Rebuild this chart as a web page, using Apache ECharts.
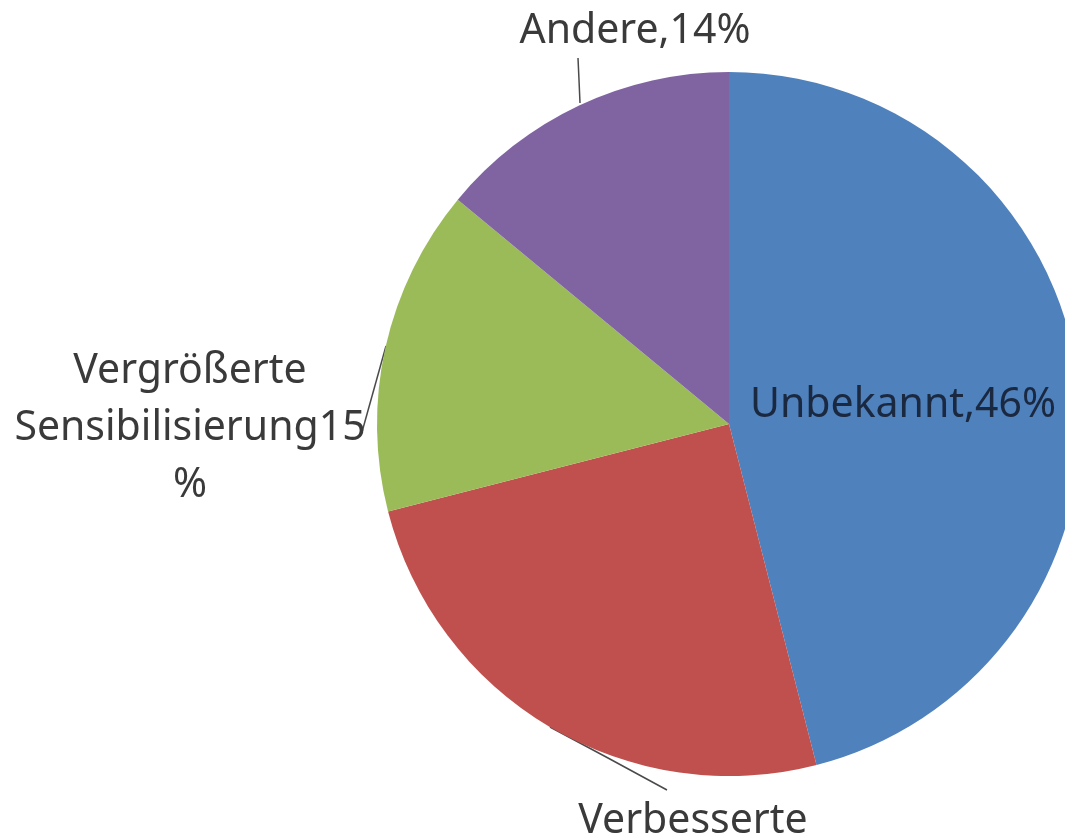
<!DOCTYPE html>
<html lang="de">
<head>
<meta charset="UTF-8">
<title>Pie</title>
<style>
  html, body { margin: 0; padding: 0; background: #fff; }
  #chart { width: 1065px; height: 840px; }
</style>
</head>
<body>
<div id="chart"></div>
<script src="https://cdn.jsdelivr.net/npm/echarts@6/dist/echarts.min.js"></script>
<script>
// Daten
const categories = ['Unbekannt', 'Verbesserte', 'Vergrößerte Sensibilisierung', 'Andere'];
const values = [46, 25, 15, 14];
const labelTexts = ['Unbekannt,46%', 'Verbesserte', 'Vergrößerte\nSensibilisierung15\n%', 'Andere,14%'];
const colors = ['#4f81bd', '#c0504d', '#9bbb59', '#8064a2'];

// label placement (pixels), same order as categories
const labelPos = [
    { x: 750, y: 405, align: 'left', line: null },
    { x: 693, y: 821, align: 'center', line: [[550, 727], [608, 758], [667, 790]] },
    { x: 190, y: 428, align: 'center', line: [[386, 346], [374, 389], [362, 432]] },
    { x: 635, y: 31, align: 'center', line: [[580, 103], [579, 80], [578, 58]] }
];

const chart = echarts.init(document.getElementById('chart'));

chart.setOption({
    backgroundColor: '#ffffff',
    animation: false,
    series: [{
        type: 'pie',
        center: [729, 424],
        radius: 352,
        startAngle: 90,
        clockwise: true,
        color: colors,
        label: {
            show: true,
            position: 'outside',
            overflow: 'none',
            fontFamily: 'Noto Sans',
            fontSize: 41,
            lineHeight: 57,
            color: '#3a3a3a',
            formatter: p => labelTexts[p.dataIndex]
        },
        labelLine: {
            show: true,
            lineStyle: { color: '#4a4a4a', width: 1.5 }
        },
        labelLayout: function (params) {
            const pos = labelPos[params.dataIndex];
            const out = {
                x: pos.x,
                y: pos.y,
                align: pos.align,
                verticalAlign: 'middle',
                hideOverlap: false,
                moveOverlap: null
            };
            if (pos.line) out.labelLinePoints = pos.line;
            return out;
        },
        data: categories.map((name, i) => ({
            name: name,
            value: values[i],
            label: i === 0 ? { position: 'inside', color: '#1a2840' } : undefined,
            labelLine: i === 0 ? { show: false } : undefined
        }))
    }]
});
</script>
</body>
</html>
